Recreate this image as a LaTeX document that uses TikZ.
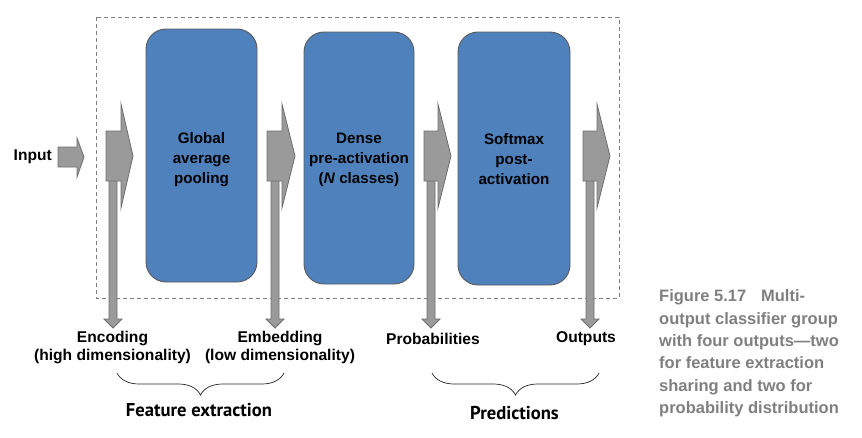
\documentclass[tikz,border=0pt]{standalone}
\usepackage{fontspec}
\setmainfont{Liberation Sans}
\newfontfamily\bracefont{PT Sans}
\usetikzlibrary{decorations.pathreplacing}
\definecolor{boxblue}{HTML}{4F81BD}
\definecolor{boxline}{HTML}{5A5A5A}
\definecolor{arrfill}{HTML}{9A9A9A}
\definecolor{arrline}{HTML}{6E6E6E}
\definecolor{capgray}{HTML}{7F7F7F}
\tikzset{
  blockbox/.style={draw=boxline, line width=0.9pt, fill=boxblue, rounded corners=20pt},
  arrshape/.style={draw=arrline, line width=0.8pt, fill=arrfill},
  lbl/.style={font=\fontsize{15.6}{17.5}\selectfont\bfseries, inner sep=0pt, align=center},
  boxtext/.style={font=\fontsize{15.2}{20}\selectfont\bfseries, inner sep=0pt, align=center},
  grouptext/.style={font=\bracefont\fontsize{18.6}{20}\selectfont\bfseries, inner sep=0pt},
  bracestyle/.style={draw=black!85, line width=0.7pt, decorate, decoration={brace, amplitude=22pt, aspect=0.5}},
}
\newcommand{\myfatarrow}[3]{%
  \draw[arrshape] (#1,131) -- (#2,131) -- (#2,104) -- (#3,156) -- (#2,208) -- (#2,181) -- (#1,181) -- cycle;}
\newcommand{\mydownarrow}[1]{%
  \draw[arrshape] ({#1-4},175) -- ({#1-4},319) -- ({#1-9},319) -- (#1,328) -- ({#1+9},319) -- ({#1+4},319) -- ({#1+4},175) -- cycle;}
\begin{document}
\begin{tikzpicture}[x=1pt,y=-1pt]
\useasboundingbox (0,0) rectangle (862,437);
% dashed frame
\draw[capgray, line width=0.9pt, dash pattern=on 4pt off 3pt] (96,17) rectangle (619,298);
% blocks
\draw[blockbox] (146,29) rectangle (257,282);
\draw[blockbox] (304,32) rectangle (414,284);
\draw[blockbox] (458,32) rectangle (570,285);
\node[boxtext] (gap) at (201.5,160) {Global\\average\\pooling};
\node[boxtext] (dense) at (359,160) {Dense\\pre-activation\\(\textit{N} classes)};
\node[boxtext] (soft) at (514,159) {Softmax\\post-\\activation};
% input arrow
\draw[arrshape] (58,147) -- (77,147) -- (77,138) -- (84,157) -- (77,177) -- (77,167) -- (58,167) -- cycle;
\node[lbl, anchor=east] (input) at (52,157) {Input};
% down arrows then fat arrows
\mydownarrow{113}
\mydownarrow{275}
\mydownarrow{431}
\mydownarrow{590}
\myfatarrow{106}{121}{133}
\myfatarrow{267}{282}{295}
\myfatarrow{424}{438}{451}
\myfatarrow{583}{597}{610}
% labels
\node[lbl] (enc) at (112.5,347.5) {Encoding\\(high dimensionality)};
\node[lbl] (emb) at (280,347.5) {Embedding\\(low dimensionality)};
\node[lbl] (prob) at (433,339) {Probabilities};
\node[lbl] (outs) at (586,339) {Outputs};
% braces
\coordinate (b1l) at (117,373);
\coordinate (b1r) at (284,373);
\coordinate (b2l) at (432,373);
\coordinate (b2r) at (599,373);
\draw[bracestyle] (b1r) -- (b1l);
\draw[bracestyle] (b2r) -- (b2l);
\node[grouptext] (fe) at (199,410) {Feature extraction};
\node[grouptext] (pred) at (514.5,413) {Predictions};
% caption
\node[anchor=north west, inner sep=0pt, align=left, text=capgray,
      font=\fontsize{16.5}{22.4}\selectfont\bfseries] (cap) at (659,289.5)
  {Figure 5.17\hspace{0.9em}Multi-\\output classifier group\\with four outputs---two\\for feature extraction\\sharing and two for\\probability distribution};
\end{tikzpicture}
\end{document}
